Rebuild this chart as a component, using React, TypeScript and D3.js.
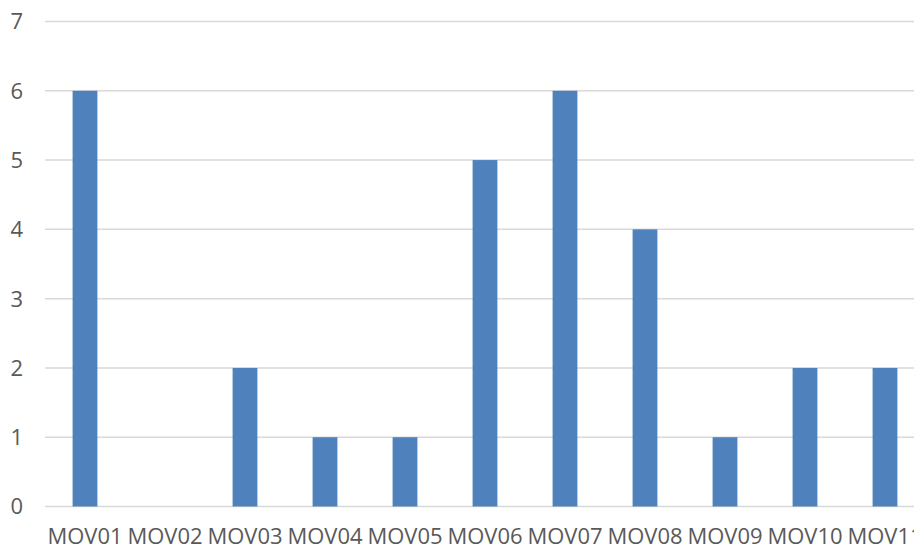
import React from "react";
import * as d3 from "d3";

const categories = ["MOV01", "MOV02", "MOV03", "MOV04", "MOV05", "MOV06", "MOV07", "MOV08", "MOV09", "MOV10", "MOV11"];
const values = [6, 0, 2, 1, 1, 5, 6, 4, 1, 2, 2];
const yTicks = [0, 1, 2, 3, 4, 5, 6, 7];

const W = 914;
const H = 548;

export default function App() {
  const x = d3.scaleBand<string>().domain(categories).range([45, 925]).paddingInner(0.69).paddingOuter(0.345);
  const y = d3.scaleLinear().domain([0, 7]).range([506.5, 21.5]);
  const font = "'Open Sans', 'DejaVu Sans', sans-serif";
  return (
    <svg width={W} height={H} style={{ position: "absolute", left: 0, top: 0, background: "#fff" }}>
      {yTicks.map((t) => (
        <g key={t}>
          <line x1={45} x2={W} y1={y(t)} y2={y(t)} stroke="#d9d9d9" strokeWidth={1.5} />
          <text x={23} y={y(t)} dy="0.36em" textAnchor="end" fontFamily={font} fontSize={22} fill="#595959">
            {t}
          </text>
        </g>
      ))}
      {categories.map((c, i) => (
        <rect key={c} x={x(c)} width={x.bandwidth()} y={y(values[i])} height={y(0) - y(values[i])} fill="#4F81BD" />
      ))}
      {categories.map((c) => (
        <text key={c} x={(x(c) as number) + x.bandwidth() / 2} y={544} textAnchor="middle" fontFamily={font} fontSize={22} fill="#595959">
          {c}
        </text>
      ))}
    </svg>
  );
}
